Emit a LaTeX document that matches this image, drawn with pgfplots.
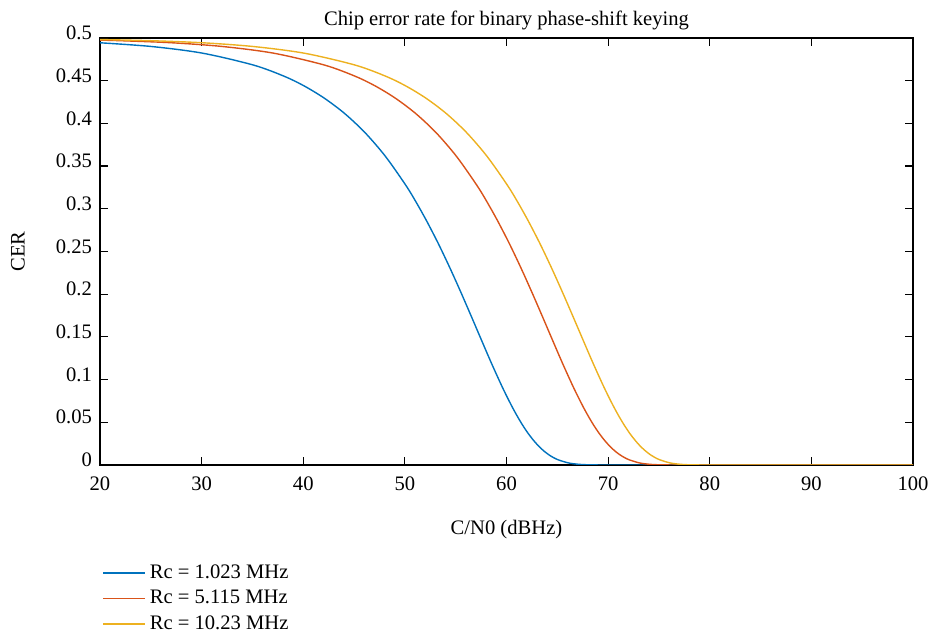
\documentclass[border=0pt]{standalone}
\usepackage{fontspec}
\setmainfont{Liberation Serif}
\usepackage{pgfplots}
\pgfplotsset{compat=1.18}
\definecolor{mblue}{HTML}{0072BD}
\definecolor{mred}{HTML}{D95319}
\definecolor{myellow}{HTML}{EDB120}
\newcommand{\chartfont}{\fontsize{10.3}{12}\selectfont}

\begin{document}
\begin{tikzpicture}
\begin{axis}[
  name=ax,
  width=406.5pt, height=213.5pt,
  scale only axis,
  xmin=20, xmax=100,
  ymin=0, ymax=0.5,
  xtick={20,30,...,100},
  ytick={0,0.05,0.1,0.15,0.2,0.25,0.3,0.35,0.4,0.45,0.5},
  scaled y ticks=false,
  yticklabel style={/pgf/number format/fixed, /pgf/number format/precision=2, yshift=2.5pt, xshift=-0.5pt},
  xticklabel style={yshift=-2.5pt, inner xsep=0pt},
  /pgf/number format/assume math mode=true,
  font=\chartfont,
  tick label style={font=\chartfont},
  tick align=inside,
  major tick length=4pt,
  tick style={black, line width=0.6pt},
  axis line style={black, line width=1pt},
  every axis title shift=0pt,
  title={Chip error rate for binary phase-shift keying},
  title style={at={(axis description cs:0.5,1.042)}, anchor=center, inner sep=0pt, font=\chartfont},
  xlabel={C/N0 (dBHz)},
  xlabel style={at={(axis description cs:0.5,-0.152)}, anchor=center, font=\chartfont},
  ylabel={CER},
  ylabel style={at={(axis description cs:-0.101,0.5)}, anchor=center, rotate=0, font=\chartfont},
  legend style={at={(axis description cs:0,-0.218)}, anchor=north west, xshift=0pt,
    draw=none, fill=none, font=\chartfont, row sep=0.5pt, inner sep=1pt},
  legend cell align=left,
  legend image code/.code={\draw[#1, line width=0.7pt] (0pt,0pt) -- (16pt,0pt); \path (0pt,0pt) -- (21pt,0pt);},
  every axis plot/.append style={line width=0.7pt, smooth, tension=0.5},
]
% Rc = 1.023 MHz
\addplot[mblue] coordinates {
(20,0.4944) (25.1,0.4900) (30.1,0.4822) (35.1,0.4683) (38.1,0.4553) (40.1,0.4438)
(42.1,0.4293) (44.1,0.4113) (46.1,0.3889) (48.1,0.3612) (50.1,0.3274) (51.1,0.3079)
(52.1,0.2867) (53.1,0.2638) (53.6,0.2517) (54.1,0.2392) (54.6,0.2264) (55.1,0.2132)
(55.6,0.1998) (56.1,0.1861) (56.6,0.1723) (57.1,0.1584) (57.6,0.1445) (58.1,0.1306)
(58.6,0.1170) (59.1,0.1038) (59.6,0.0909) (60.1,0.0787) (60.6,0.0671) (61.1,0.0563)
(61.6,0.0464) (62.1,0.0375) (62.6,0.0297) (63.1,0.0229) (63.6,0.0172) (64.1,0.0125)
(64.6,0.0088) (65.1,0.0060) (66.1,0.0024) (67.1,0.0008) (68.1,0.0002) (69.1,0.00003)
(70.1,0) (100,0)
};
\addlegendentry{Rc = 1.023 MHz}
% Rc = 5.115 MHz
\addplot[mred] coordinates {
(20,0.4975) (22.09,0.4968) (27.09,0.4944) (32.09,0.4900) (37.09,0.4822) (42.09,0.4683)
(45.09,0.4553) (47.09,0.4438) (49.09,0.4293) (51.09,0.4113) (53.09,0.3889) (55.09,0.3612)
(57.09,0.3274) (58.09,0.3079) (59.09,0.2867) (60.09,0.2638) (60.59,0.2517) (61.09,0.2392)
(61.59,0.2264) (62.09,0.2132) (62.59,0.1998) (63.09,0.1861) (63.59,0.1723) (64.09,0.1584)
(64.59,0.1445) (65.09,0.1306) (65.59,0.1170) (66.09,0.1038) (66.59,0.0909) (67.09,0.0787)
(67.59,0.0671) (68.09,0.0563) (68.59,0.0464) (69.09,0.0375) (69.59,0.0297) (70.09,0.0229)
(70.59,0.0172) (71.09,0.0125) (71.59,0.0088) (72.09,0.0060) (73.09,0.0024) (74.09,0.0008)
(75.09,0.0002) (76.09,0.00003) (77.09,0) (100,0)
};
\addlegendentry{Rc = 5.115 MHz}
% Rc = 10.23 MHz
\addplot[myellow] coordinates {
(20,0.4982) (25.1,0.4968) (30.1,0.4944) (35.1,0.4900) (40.1,0.4822) (45.1,0.4683)
(48.1,0.4553) (50.1,0.4438) (52.1,0.4293) (54.1,0.4113) (56.1,0.3889) (58.1,0.3612)
(60.1,0.3274) (61.1,0.3079) (62.1,0.2867) (63.1,0.2638) (63.6,0.2517) (64.1,0.2392)
(64.6,0.2264) (65.1,0.2132) (65.6,0.1998) (66.1,0.1861) (66.6,0.1723) (67.1,0.1584)
(67.6,0.1445) (68.1,0.1306) (68.6,0.1170) (69.1,0.1038) (69.6,0.0909) (70.1,0.0787)
(70.6,0.0671) (71.1,0.0563) (71.6,0.0464) (72.1,0.0375) (72.6,0.0297) (73.1,0.0229)
(73.6,0.0172) (74.1,0.0125) (74.6,0.0088) (75.1,0.0060) (76.1,0.0024) (77.1,0.0008)
(78.1,0.0002) (79.1,0.00003) (80.1,0) (100,0)
};
\addlegendentry{Rc = 10.23 MHz}
\end{axis}
\path (ax.south west) ++(-50pt,-86pt) coordinate (bbA);
\path (ax.north east) ++(8.5pt,19pt) coordinate (bbB);
\path (bbA) rectangle (bbB);
\end{tikzpicture}
\end{document}
